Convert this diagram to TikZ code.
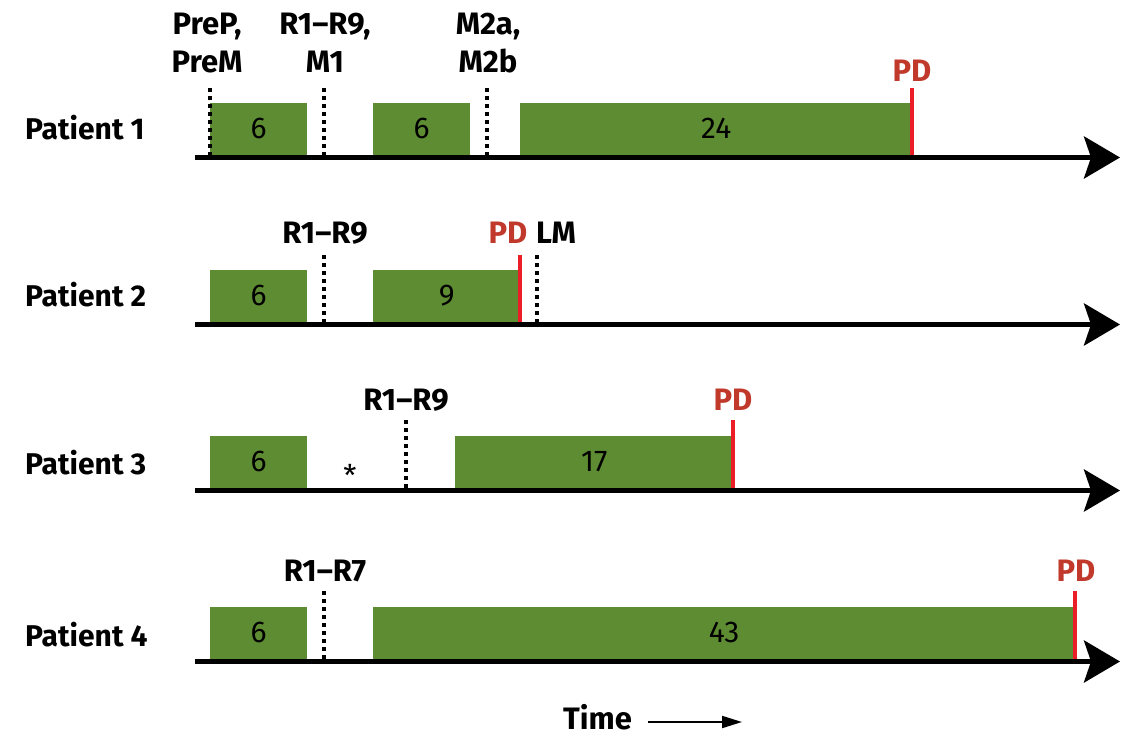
\documentclass[tikz,border=0pt]{standalone}
\usepackage{fontspec}
\setmainfont{Fira Sans}
\usetikzlibrary{arrows.meta}
\definecolor{bargreen}{RGB}{94,140,50}
\definecolor{pdtext}{RGB}{192,57,43}
\definecolor{pdline}{RGB}{235,30,40}
\begin{document}
\begin{tikzpicture}[x=1pt,y=-1pt,
  bar/.style={fill=bargreen, draw=none, inner sep=0pt, anchor=south west, minimum height=52pt, font=\fontsize{30}{32}\selectfont},
  axisline/.style={line width=5pt, -{Stealth[length=36pt,width=42pt,inset=7pt]}},
  dotline/.style={line width=4.5pt, dash pattern=on 4pt off 4pt},
  pdmark/.style={line width=4pt, draw=pdline},
  lbl/.style={font=\bfseries\fontsize{31}{38}\selectfont, inner sep=0pt, align=center},
  pdlbl/.style={lbl, text=pdtext},
  patient/.style={font=\bfseries\fontsize{30}{36}\selectfont, inner sep=0pt, anchor=base west}
]
\useasboundingbox (0,0) rectangle (1148,738);

% ---------- Patient 1 ----------
\node[patient] (p1) at (25,140) {Patient 1};
\node[bar, minimum width=97pt] (b11) at (210,155) {6};
\node[bar, minimum width=97pt] (b12) at (373,155) {6};
\node[bar, minimum width=392pt] (b13) at (520,155) {24};
\coordinate (a1s) at (195,157.5);
\coordinate (a1e) at (1120,157.5);
\draw[axisline] (a1s) -- (a1e);
\node[lbl, anchor=south] (l11) at (207,73) {PreP,\\PreM};
\node[lbl, anchor=south] (l12) at (325,73) {R1–R9,\\M1};
\node[lbl, anchor=south] (l13) at (488,73) {M2a,\\M2b};
\draw[dotline] (210,88) -- (210,155);
\draw[dotline] (324,88) -- (324,155);
\draw[dotline] (487,88) -- (487,155);
\node[pdlbl, anchor=base] (pd1) at (912,82) {PD};
\draw[pdmark] (912,88) -- (912,155);

% ---------- Patient 2 ----------
\node[patient] (p2) at (25,306) {Patient 2};
\node[bar, minimum width=97pt] (b21) at (210,322) {6};
\node[bar, minimum width=147pt] (b22) at (373,322) {9};
\coordinate (a2s) at (195,324.5);
\coordinate (a2e) at (1120,324.5);
\draw[axisline] (a2s) -- (a2e);
\node[lbl, anchor=base] (l21) at (325,243) {R1–R9};
\draw[dotline] (324,255) -- (324,322);
\node[pdlbl, anchor=base] (pd2) at (508,243) {PD};
\draw[pdmark] (520,255) -- (520,322);
\node[lbl, anchor=base] (l22) at (556,243) {LM};
\draw[dotline] (537,255) -- (537,322);

% ---------- Patient 3 ----------
\node[patient] (p3) at (25,474) {Patient 3};
\node[bar, minimum width=97pt] (b31) at (210,488) {6};
\node[bar, minimum width=278pt] (b32) at (455,488) {17};
\coordinate (a3s) at (195,490.5);
\coordinate (a3e) at (1120,490.5);
\draw[axisline] (a3s) -- (a3e);
\node[font=\fontsize{30}{32}\selectfont, inner sep=0pt, anchor=base] (ast) at (350,486) {*};
\node[lbl, anchor=base] (l31) at (406,410) {R1–R9};
\draw[dotline] (406,420) -- (406,488);
\node[pdlbl, anchor=base] (pd3) at (733,410) {PD};
\draw[pdmark] (733,420) -- (733,488);

% ---------- Patient 4 ----------
\node[patient] (p4) at (25,646) {Patient 4};
\node[bar, minimum width=97pt] (b41) at (210,659) {6};
\node[bar, minimum width=702pt] (b42) at (373,659) {43};
\coordinate (a4s) at (195,661.5);
\coordinate (a4e) at (1120,661.5);
\draw[axisline] (a4s) -- (a4e);
\node[lbl, anchor=base] (l41) at (325,581) {R1–R7};
\draw[dotline] (324,591) -- (324,659);
\node[pdlbl, anchor=base] (pd4) at (1076,581) {PD};
\draw[pdmark] (1075,591) -- (1075,659);

% ---------- Time ----------
\node[lbl, anchor=base west] (time) at (563,729) {Time};
\coordinate (ts) at (648,722);
\coordinate (te) at (742,722);
\draw[line width=2pt, -{Triangle[length=20pt,width=12pt]}] (ts) -- (te);
\end{tikzpicture}
\end{document}
